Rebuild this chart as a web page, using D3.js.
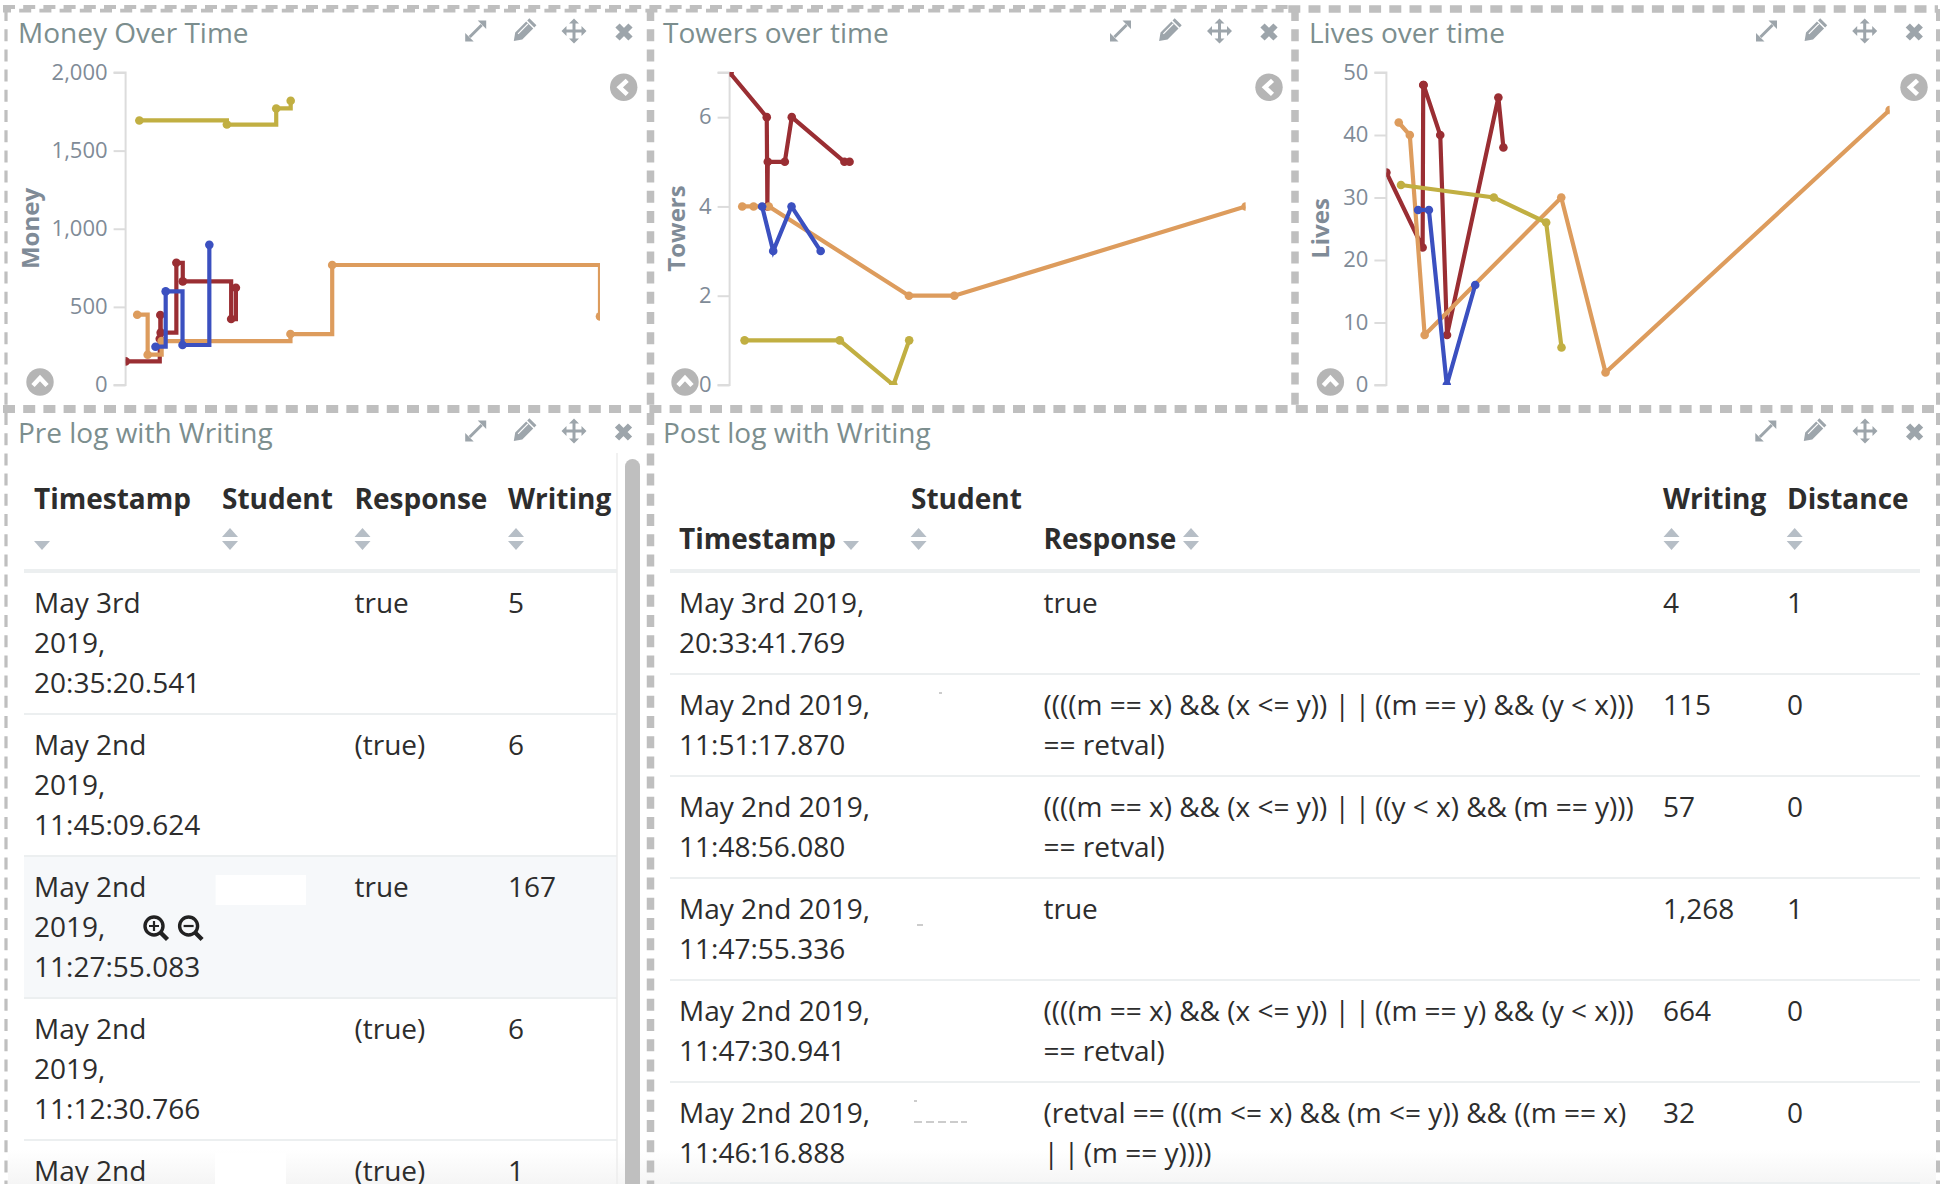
<!DOCTYPE html>
<html><head><meta charset="utf-8">
<style>html,body{margin:0;padding:0;background:#fff;overflow:hidden}svg{display:block}text{font-family:"Open Sans",sans-serif}</style>
<script src="https://d3js.org/d3.v7.min.js"></script></head><body>
<svg id="c" width="1946" height="1184"></svg>
<script>
// ---- data: x positions share a time axis (percent of the visible time range)
const redTime = [0,7.2,7.32,7.4,10.7,12.05,22.25,23.25];
const blueTime = [6.3,8.45,12.0,17.65];
const orangeTime = [2.45,4.65,7.6,34.75,43.55,100];
const goldTime = [2.9,21.35,31.75,34.8];

const moneyRed = [151,296,448,335,782,663,422,622];
const moneyBlue = [245,599,256,897];
const moneyOrange = [450,194,281,326,768,439];
const moneyGold = [1693,1667,1770,1819];

const towersRed = [7,6,4,5,5,6,5,5];
const towersBlue = [4,3,4,3];
const towersOrange = [4,4,4,2,2,4];
const towersGold = [1,1,0,1];

const livesRed = [34,22,48,48,40,8,46,38];
const livesBlue = [28,28,0,16];
const livesOrange = [42,40,8,30,2,44];
const livesGold = [32,30,26,6];

const moneyTicks = [0,500,1000,1500,2000];
const towersTicks = [0,2,4,6,7];
const livesTicks = [0,10,20,30,40,50];

const preHeaders = ["Timestamp","Student","Response","Writing"];
const preTimes = [["May 3rd","2019,","20:35:20.541"],["May 2nd","2019,","11:45:09.624"],["May 2nd","2019,","11:27:55.083"],["May 2nd","2019,","11:12:30.766"],["May 2nd"]];
const preResponses = ["true","(true)","true","(true)","(true)"];
const preWriting = ["5","6","167","6","1"];

const postHeaders = ["Timestamp","Student","Response","Writing","Distance"];
const postTimes = [["May 3rd 2019,","20:33:41.769"],["May 2nd 2019,","11:51:17.870"],["May 2nd 2019,","11:48:56.080"],["May 2nd 2019,","11:47:55.336"],["May 2nd 2019,","11:47:30.941"],["May 2nd 2019,","11:46:16.888"]];
const postResponses = [["true"],["((((m == x) && (x <= y)) | | ((m == y) && (y < x)))","== retval)"],["((((m == x) && (x <= y)) | | ((y < x) && (m == y)))","== retval)"],["true"],["((((m == x) && (x <= y)) | | ((m == y) && (y < x)))","== retval)"],["(retval == (((m <= x) && (m <= y)) && ((m == x)","| | (m == y))))"]];
const postWriting = ["4","115","57","1,268","664","32"];
const postDistance = ["1","0","0","1","0","0"];

const colors = {red:"#9a2e33",blue:"#3b50c0",orange:"#dd9c5d",gold:"#c1af42"};
const svg = d3.select("#c");
const dashCol = "#bfbfbf", iconCol = "#9da5ab", titleCol = "#7c8e8e", tickCol = "#7f8b97", textCol = "#2d2d2d";

// faint fade at the very bottom of the tables
const defs = svg.append("defs");
const grad = defs.append("linearGradient").attr("id","fade").attr("x1",0).attr("x2",0).attr("y1",0).attr("y2",1);
grad.append("stop").attr("offset",0).attr("stop-color","#fff");
grad.append("stop").attr("offset",1).attr("stop-color","#f5f5f5");
svg.append("rect").attr("x",8).attr("y",1150).attr("width",1928).attr("height",34).attr("fill","url(#fade)");

function icons(cx, cy){
  const g = svg.append("g").attr("fill",iconCol).attr("stroke",iconCol);
  const e = g.append("g").attr("transform",`translate(${cx[0]},${cy})`);
  e.append("path").attr("d","M-6,6L6,-6").attr("stroke-width",3);
  e.append("path").attr("stroke","none").attr("d","M2,-10.5H10.5V-2ZM-10.5,2L-2,10.5H-10.5Z");
  const p = g.append("g").attr("transform",`translate(${cx[1]},${cy}) rotate(45)`);
  p.append("path").attr("stroke","none").attr("d","M-5,-13H5V-10H-5ZM-5,-8.5H5V7L0,14L-5,7Z");
  p.append("path").attr("stroke","#fff").attr("stroke-width",1.2).attr("fill","none").attr("d","M-2,-8V6");
  const m = g.append("g").attr("transform",`translate(${cx[2]},${cy})`);
  m.append("path").attr("stroke-width",3).attr("d","M-9,0H9M0,-9V9");
  m.append("path").attr("stroke","none").attr("d","M-5,-7.5L0,-12.5L5,-7.5ZM-5,7.5L0,12.5L5,7.5ZM-7.5,-5L-12.5,0L-7.5,5ZM7.5,-5L12.5,0L7.5,5Z");
  g.append("path").attr("fill","none").attr("stroke-width",6).attr("transform",`translate(${cx[3]},${cy+1})`).attr("d","M-6.5,-6.5L6.5,6.5M6.5,-6.5L-6.5,6.5");
}
function button(x,y,dir){
  svg.append("circle").attr("cx",x).attr("cy",y).attr("r",13.7).attr("fill","#b5b5b5");
  const d = dir==="left" ? "M3.5,-7L-4,0L3.5,7" : "M-7,3.5L0,-4L7,3.5";
  svg.append("path").attr("transform",`translate(${x},${y})`).attr("d",d).attr("fill","none").attr("stroke","#fff").attr("stroke-width",4.5);
}
function titleText(px,py,s){ return svg.append("text").attr("x",px).attr("y",py).attr("font-size",28).attr("fill",titleCol).text(s); }

function chart(cfg,idx){
  const x = d3.scaleLinear().domain([0,100]).range([cfg.left,cfg.right]);
  const y = d3.scaleLinear().domain([0,cfg.max]).range([385,72.5]);
  const id = "clip"+idx;
  svg.append("clipPath").attr("id",id).append("rect").attr("x",cfg.left).attr("y",72).attr("width",cfg.right-cfg.left).attr("height",313);
  const ax = svg.append("g").attr("transform",`translate(${cfg.left},0)`)
    .call(d3.axisLeft(y).tickValues(cfg.ticks).tickSize(12).tickPadding(6).tickFormat(d=>cfg.hide&&cfg.hide.includes(d)?"":d3.format(",")(d)));
  ax.selectAll("line").attr("stroke","#dcdcdc").attr("stroke-width",2);
  ax.select(".domain").attr("stroke","#dcdcdc").attr("stroke-width",2).attr("d",`M-12,${y(cfg.max)}H0V385H-12`);
  ax.selectAll("text").attr("font-size",22).attr("fill",tickCol).attr("font-family",'"Open Sans",sans-serif').attr("dy","0.3em");
  svg.append("text").attr("transform",`translate(${cfg.titleX},228.5) rotate(-90)`).attr("text-anchor","middle")
    .attr("font-size",24).attr("font-weight",700).attr("fill",tickCol).text(cfg.label);
  const g = svg.append("g").attr("clip-path",`url(#${id})`);
  const line = d3.line().x(d=>x(d[0])).y(d=>y(d[1])).curve(cfg.step?d3.curveStepAfter:d3.curveLinear);
  cfg.series.forEach(s=>{
    const pts = d3.zip(s.t,s.v);
    g.append("path").datum(pts).attr("d",line).attr("fill","none").attr("stroke",s.c).attr("stroke-width",4.2).attr("stroke-linejoin","miter");
    g.selectAll(null).data(pts).join("circle").attr("cx",d=>x(d[0])).attr("cy",d=>y(d[1])).attr("r",4.3).attr("fill",s.c);
  });
}
const S = (r,o,g,b)=>[
  {t:redTime,v:r,c:colors.red},{t:orangeTime,v:o,c:colors.orange},{t:goldTime,v:g,c:colors.gold},{t:blueTime,v:b,c:colors.blue}];
chart({left:125.6,right:600,max:2000,ticks:moneyTicks,label:"Money",titleX:39,step:true,series:S(moneyRed,moneyOrange,moneyGold,moneyBlue)},0);
chart({left:729.6,right:1245.6,max:7,ticks:towersTicks,hide:[7],label:"Towers",titleX:685,series:S(towersRed,towersOrange,towersGold,towersBlue)},1);
chart({left:1386.4,right:1889.6,max:50,ticks:livesTicks,label:"Lives",titleX:1329,series:S(livesRed,livesOrange,livesGold,livesBlue)},2);

// panel headers
[["Money Over Time",18,43],["Towers over time",663,43],["Lives over time",1309,43],["Pre log with Writing",18,443],["Post log with Writing",663,443]]
 .forEach(d=>titleText(d[1],d[2],d[0]));
icons([475.7,523.7,574,624],31);
icons([1120.5,1169,1219.5,1269],31);
icons([1766.5,1814.5,1864.7,1914.3],31);
icons([475.7,523.7,574,623.5],431);
icons([1765.8,1813.7,1865,1914.6],431);
button(623.7,87.3,"left");button(1269,87.3,"left");button(1914,87.3,"left");
button(40,382,"up");button(685,382,"up");button(1330.4,382,"up");

// tables
function hdr(x,y,s){svg.append("text").attr("x",x).attr("y",y).attr("font-size",28).attr("font-weight",700).attr("fill",textCol).text(s);}
function cell(x,y,lines){
  [].concat(lines).forEach((l,i)=>{
    const t=svg.append("text").attr("x",x).attr("y",y+i*40).attr("font-size",28).attr("fill",textCol);
    const parts=l.split("| | ");
    if(parts.length===1){t.text(l);return;}
    t.append("tspan").text(parts[0]);
    t.append("tspan").attr("letter-spacing","-1.25").text("| | ");
    t.append("tspan").text(parts[1]);
  });
}
function sort(x,up,down){
  const p=[]; if(up)p.push(`M${x-8},537L${x},528L${x+8},537Z`); if(down)p.push(`M${x-8},541L${x},550L${x+8},541Z`);
  svg.append("path").attr("d",p.join("")).attr("fill","#b6bec6");
}
function hline(x1,x2,y,w){svg.append("line").attr("x1",x1).attr("x2",x2).attr("y1",y).attr("y2",y).attr("stroke","#eceff0").attr("stroke-width",w);}

// Pre table
const preRowTop=[571,714,856,998,1140];
svg.append("rect").attr("x",24).attr("y",856).attr("width",593).attr("height",142).attr("fill","#f6f8fa");
const preCols=[34,222,354.5,508];
preHeaders.forEach((h,i)=>{hdr(preCols[i],509,h);sort(i===0?42:preCols[i]+8,i>0,true);});
hline(24,617,571,4);
preTimes.forEach((t,i)=>{
  const y=preRowTop[i]+(i===0?42:41);
  cell(preCols[0],y,t);cell(preCols[2],y,preResponses[i]);cell(preCols[3],y,preWriting[i]);
  if(i<4)hline(24,617,preRowTop[i+1],2);
});
svg.append("rect").attr("x",215.6).attr("y",875).attr("width",90.4).attr("height",30).attr("fill","#fff");
svg.append("rect").attr("x",215).attr("y",1153).attr("width",71).attr("height",31).attr("fill","#fff");
// zoom glyphs on hover row
[[154,"M-5,0H5M0,-5V5"],[188.6,"M-5,0H5"]].forEach(([x,d])=>{
  const g=svg.append("g").attr("transform",`translate(${x},926)`).attr("fill","none").attr("stroke","#222").attr("stroke-width",3.4);
  g.append("circle").attr("r",9);g.append("path").attr("stroke-width",2.2).attr("d",d);g.append("path").attr("d","M6.5,6.5L13.5,13.5").attr("stroke-width",4.4);
});
// scrollbar
svg.append("line").attr("x1",617).attr("x2",617).attr("y1",453).attr("y2",1184).attr("stroke","#ececec").attr("stroke-width",1.5);
svg.append("rect").attr("x",625).attr("y",459).attr("width",15).attr("height",760).attr("rx",7.5).attr("fill","#bfbfbf");

// Post table
const postCols=[679,911,1043.5,1663,1787];
const postRowTop=[571,674,776,878,980,1082];
hdr(postCols[0],549,postHeaders[0]);sort(851,false,true);
hdr(postCols[1],509,postHeaders[1]);sort(918.6,true,true);
hdr(postCols[2],549,postHeaders[2]);sort(1191,true,true);
hdr(postCols[3],509,postHeaders[3]);sort(1671.5,true,true);
hdr(postCols[4],509,postHeaders[4]);sort(1794.7,true,true);
hline(670,1920,571,4);
postTimes.forEach((t,i)=>{
  const y=postRowTop[i]+(i===0?41.5:40.5);
  cell(postCols[0],y,t);cell(postCols[2],y,postResponses[i]);cell(postCols[3],y,postWriting[i]);cell(postCols[4],y,postDistance[i]);
  hline(670,1920,i<5?postRowTop[i+1]:1183,2);
});
// leftovers of the masked student names
svg.append("path").attr("fill","none").attr("stroke","#999").attr("stroke-width",1.2)
  .attr("d","M939,693H942M917,925H923M914,1101H917M914,1122H922M926,1122H934M938,1122H946M950,1122H958M961,1122H967");

// dashed panel borders
function dash(x1,y1,x2,y2,w,off){svg.append("line").attr("x1",x1).attr("y1",y1).attr("x2",x2).attr("y2",y2).attr("stroke",dashCol).attr("stroke-width",w).attr("stroke-dasharray","12 8.2").attr("stroke-dashoffset",off||0);}
// top edges
dash(3,7,1292,7,3.8,0);dash(3,10.7,1292,10.7,3.8,4);
dash(1288.3,9,1938,9,7.5,0);
// middle edge
dash(3,409,1940,409,8,0);
// verticals
dash(6,9,6,1184,3.2);
dash(650.5,9,650.5,1184,7.5);
dash(1295,9,1295,405,7.5);
dash(1938,9,1938,1184,4);
</script></body></html>
